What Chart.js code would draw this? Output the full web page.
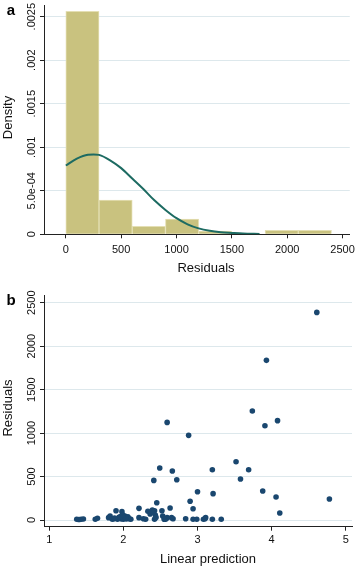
<!DOCTYPE html>
<html>
<head>
<meta charset="utf-8">
<script src="https://cdn.jsdelivr.net/npm/chart.js@4.4.1/dist/chart.umd.min.js"></script>
<style>
  html, body { margin: 0; padding: 0; background: #fff; }
  .panel { position: relative; width: 360px; }
  canvas { display: block; }
</style>
</head>
<body>
<div class="panel" style="height:280px"><canvas id="ca" width="360" height="280"></canvas></div>
<div class="panel" style="height:288px"><canvas id="cb" width="360" height="288"></canvas></div>
<script>
// ---------- Panel a: histogram of residuals ----------
const binStarts = [0, 300, 600, 900, 1200, 1500, 1800, 2100];
const binWidth = 300;
const binDensity = [0.00256, 0.000394, 0.000092, 0.000176, 0.000038, null, 0.000046, 0.000046];

const curveX = [0, 100, 200, 250, 300, 400, 500, 600, 700, 800, 900, 1000, 1100, 1200, 1300, 1400, 1500, 1600, 1750];
const curveY = [0.00079, 0.00087, 0.000915, 0.000918, 0.000912, 0.00085, 0.00076, 0.00064, 0.00052, 0.00039, 0.00028, 0.000185, 0.000115, 0.000068, 0.00004, 0.000024, 0.000016, 0.000009, 0.000004];

const xTicksA = [0, 500, 1000, 1500, 2000, 2500];
const yTicksA = [0, 0.0005, 0.001, 0.0015, 0.002, 0.0025];
const yLabelsA = ['0', '5.0e-04', '.001', '.0015', '.002', '.0025'];

// ---------- Panel b: residuals vs linear prediction ----------
const linPred = [4.61, 3.93, 3.74, 2.59, 4.08, 3.91, 2.88, 3.52, 2.49, 3.69, 3.20, 2.66, 2.41, 2.72, 3.58, 3.00, 3.88, 3.21,
  4.06, 4.78, 2.90, 2.45, 2.94, 4.11,
  1.37, 1.40, 1.43, 1.46, 1.62, 1.65, 1.80, 1.82, 1.85, 1.87, 1.90, 1.92, 1.94, 1.97, 1.98, 2.00, 2.02, 2.04, 2.06, 2.08, 2.10,
  2.21, 2.21, 2.27, 2.30, 2.33, 2.36, 2.39, 2.42, 2.42, 2.43, 2.52, 2.53, 2.57, 2.59, 2.63, 2.65, 2.67, 2.84, 2.94, 2.99,
  3.08, 3.11, 3.20, 3.32, 1.88, 1.96, 2.03, 2.40, 2.44, 3.10, 2.55, 1.99];
const residuals = [2389, 1837, 1254, 1123, 1143, 1085, 974, 671, 598, 579, 579, 564, 456, 464, 472, 326, 334, 303,
  265, 242, 215, 199, 130, 81,
  8, 5, 8, 12, 8, 20, 27, 46, 8, 15, 107, 8, 31, 12, 96, 8, 46, 12, 38, 15, 8,
  134, 27, 15, 8, 100, 69, 115, 107, 8, 58, 107, 46, 8, 27, 138, 27, 15, 15, 8, 8,
  8, 27, 8, 8, 23, 40, 25, 90, 30, 15, 10, 60];

const xTicksB = [1, 2, 3, 4, 5];
const yTicksB = [0, 500, 1000, 1500, 2000, 2500];
const yLabelsB = ['0', '500', '1000', '1500', '2000', '2500'];

// ---------- styling ----------
const FONT = '"Liberation Sans", Arial, Helvetica, sans-serif';
const AXIS = '#222222';
const GRID = '#dde8ec';
const TEXT = '#111111';

function textPlugin(cfg) {
  return {
    id: 'stataText',
    afterDraw(chart) {
      const ctx = chart.ctx;
      const ys = chart.scales.y;
      ctx.save();
      ctx.fillStyle = TEXT;
      // rotated y tick labels
      ctx.font = '11px ' + FONT;
      ctx.textAlign = 'center';
      ctx.textBaseline = 'middle';
      cfg.yTicks.forEach((v, i) => {
        const py = ys.getPixelForValue(v);
        ctx.save();
        ctx.translate(cfg.yLabelX, py);
        ctx.rotate(-Math.PI / 2);
        ctx.fillText(cfg.yLabels[i], 0, 0);
        ctx.restore();
      });
      // axis titles
      ctx.font = '13px ' + FONT;
      ctx.textBaseline = 'alphabetic';
      ctx.fillText(cfg.xTitle, cfg.xTitleX, cfg.xTitleY);
      ctx.save();
      ctx.translate(cfg.yTitleX, cfg.yTitleY);
      ctx.rotate(-Math.PI / 2);
      ctx.fillText(cfg.yTitle, 0, 0);
      ctx.restore();
      // panel letter
      ctx.font = 'bold 15px ' + FONT;
      ctx.textAlign = 'center';
      ctx.textBaseline = 'alphabetic';
      ctx.fillStyle = '#000';
      ctx.fillText(cfg.letter, 11, cfg.letterY);
      ctx.restore();
    }
  };
}

function xScale(min, max, ticks, height, pad) {
  return {
    type: 'linear', min: min, max: max, offset: false,
    afterBuildTicks: s => { s.ticks = ticks.map(v => ({ value: v })); },
    afterFit: s => { s.height = height; },
    grid: { offset: false, drawOnChartArea: false, drawTicks: true, tickLength: 4, tickColor: AXIS, tickWidth: 1 },
    border: { display: true, color: AXIS, width: 1 },
    ticks: { color: TEXT, font: { family: FONT, size: 11 }, padding: pad, maxRotation: 0, minRotation: 0,
             autoSkip: false, callback: v => String(v) }
  };
}
function yScale(min, max, ticks) {
  return {
    type: 'linear', min: min, max: max,
    afterBuildTicks: s => { s.ticks = ticks.map(v => ({ value: v })); },
    afterFit: s => { s.width = 44; },
    grid: { color: GRID, lineWidth: 1, drawTicks: true, tickLength: 4, tickColor: AXIS, tickWidth: 1 },
    border: { display: true, color: AXIS, width: 1 },
    ticks: { display: false }
  };
}

new Chart(document.getElementById('ca'), {
  type: 'bar',
  data: {
    datasets: [
      {
        type: 'line',
        data: curveX.map((x, i) => ({ x: x, y: curveY[i] })),
        borderColor: '#1d6b62', borderWidth: 2, pointRadius: 0,
        cubicInterpolationMode: 'monotone', fill: false, order: 0
      },
      {
        type: 'bar',
        data: binStarts.map((s, i) => ({ x: s + binWidth / 2, y: binDensity[i] })),
        backgroundColor: '#c9c27f', borderColor: '#e4dfb4', borderWidth: 1,
        borderSkipped: 'bottom', barPercentage: 1, categoryPercentage: 1, order: 1
      }
    ]
  },
  options: {
    responsive: false, animation: false, devicePixelRatio: 1,
    layout: { padding: { top: 5, right: 8, left: 0, bottom: 0 } },
    plugins: { legend: { display: false }, tooltip: { enabled: false } },
    scales: {
      x: xScale(-197, 2565, xTicksA, 45.7, 5),
      y: yScale(0, 0.002634, yTicksA)
    }
  },
  plugins: [textPlugin({
    yTicks: yTicksA, yLabels: yLabelsA, yLabelX: 31.5,
    xTitle: 'Residuals', xTitleX: 206, xTitleY: 271.5,
    yTitle: 'Density', yTitleX: 12, yTitleY: 117.5,
    letter: 'a', letterY: 15
  })]
});

new Chart(document.getElementById('cb'), {
  type: 'scatter',
  data: {
    datasets: [{
      data: linPred.map((x, i) => ({ x: x, y: residuals[i] })),
      backgroundColor: '#1a476f', borderColor: '#1a476f', borderWidth: 0,
      pointRadius: 2.8, pointHoverRadius: 2.8
    }]
  },
  options: {
    responsive: false, animation: false, devicePixelRatio: 1,
    layout: { padding: { top: 15, right: 8, left: 0, bottom: 0 } },
    plugins: { legend: { display: false }, tooltip: { enabled: false } },
    scales: {
      x: xScale(0.928, 5.085, xTicksB, 41.3, 3),
      y: yScale(-77, 2589, yTicksB)
    }
  },
  plugins: [textPlugin({
    yTicks: yTicksB, yLabels: yLabelsB, yLabelX: 31.5,
    xTitle: 'Linear prediction', xTitleX: 208, xTitleY: 283,
    yTitle: 'Residuals', yTitleX: 12, yTitleY: 128,
    letter: 'b', letterY: 25
  })]
});
</script>
</body>
</html>
